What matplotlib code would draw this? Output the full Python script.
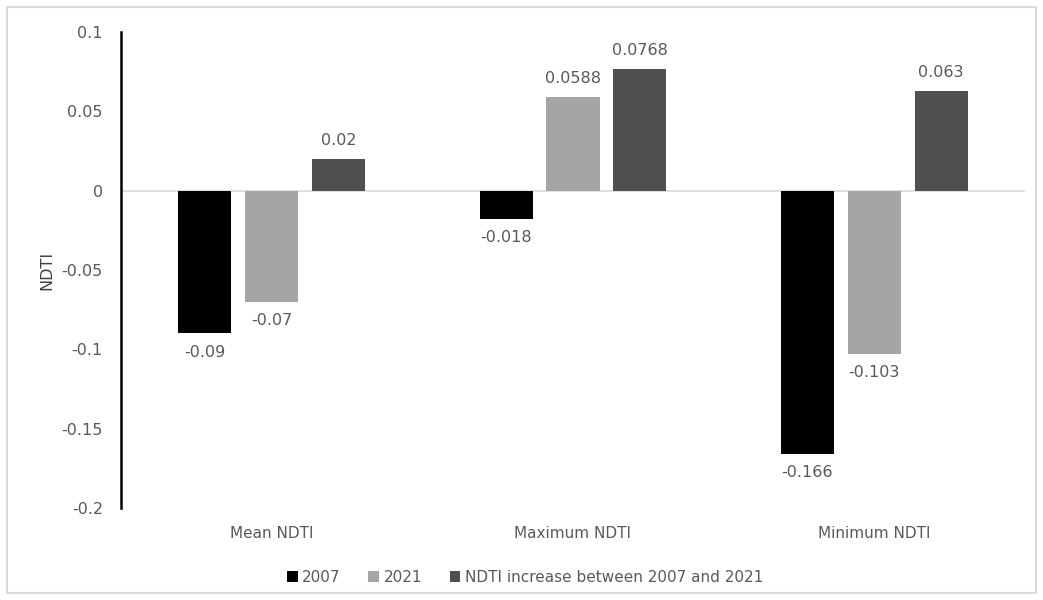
import numpy as np
import matplotlib
matplotlib.use("Agg")
from matplotlib import pyplot as plt
from matplotlib.patches import Rectangle

categories = ["Mean NDTI", "Maximum NDTI", "Minimum NDTI"]
series_names = ["2007", "2021", "NDTI increase between 2007 and 2021"]
v2007 = [-0.09, -0.018, -0.166]
v2021 = [-0.07, 0.0588, -0.103]
increase = [0.02, 0.0768, 0.063]
labels2007 = ["-0.09", "-0.018", "-0.166"]
labels2021 = ["-0.07", "0.0588", "-0.103"]
labels_inc = ["0.02", "0.0768", "0.063"]

colors = ["#000000", "#A5A5A5", "#4F4F4F"]
text_color = "#595959"

plt.rcParams['font.family'] = ['DejaVu Sans']

fig = plt.figure(figsize=(10.43, 6), dpi=100)
ax = fig.add_axes([121 / 1043, 92 / 600, 904 / 1043, 476 / 600])

x = np.arange(len(categories))
width = 0.176
step = 0.222
all_vals = [v2007, v2021, increase]
all_labels = [labels2007, labels2021, labels_inc]

for i in range(3):
    pos = x + (i - 1) * step
    ax.bar(pos, all_vals[i], width, color=colors[i], label=series_names[i], zorder=3)
    for p, v, t in zip(pos, all_vals[i], all_labels[i]):
        off = 8 if v > 0 else -8
        ax.annotate(t, (p, v), xytext=(0, off), textcoords="offset points",
                    ha="center", va="bottom" if v > 0 else "top",
                    fontsize=11.5, color=text_color)

ax.axhline(0, color="#D9D9D9", lw=1.2, zorder=2)

ax.set_xlim(-0.5, 2.5)
ax.set_ylim(-0.2, 0.1)
ax.set_yticks([-0.2, -0.15, -0.1, -0.05, 0, 0.05, 0.1])
ax.set_yticklabels(["-0.2", "-0.15", "-0.1", "-0.05", "0", "0.05", "0.1"])
ax.set_xticks(x)
ax.set_xticklabels(categories)

for s in ["top", "right", "bottom"]:
    ax.spines[s].set_visible(False)
ax.spines["left"].set_linewidth(1.8)
ax.spines["left"].set_color("black")

ax.tick_params(axis="y", length=0, pad=13, labelsize=11.5, labelcolor=text_color)
ax.tick_params(axis="x", length=0, pad=13, labelsize=11, labelcolor=text_color)

fig.text(47 / 1043, 1 - 270 / 600, "NDTI", rotation=90, ha="center", va="center",
         fontsize=11.5, color="#404040")

fig.legend(loc="center", bbox_to_anchor=(525 / 1043, 1 - 577 / 600), ncol=3,
           frameon=False, fontsize=11, handlelength=0.7, handleheight=0.7,
           handletextpad=0.3, columnspacing=1.8, labelcolor=text_color)

fig.patches.append(Rectangle((7 / 1043, 7 / 600), 1029 / 1043, 586 / 600,
                             transform=fig.transFigure, fill=False,
                             edgecolor="#D9D9D9", lw=1.5))

fig.savefig("out.png", dpi=100)
